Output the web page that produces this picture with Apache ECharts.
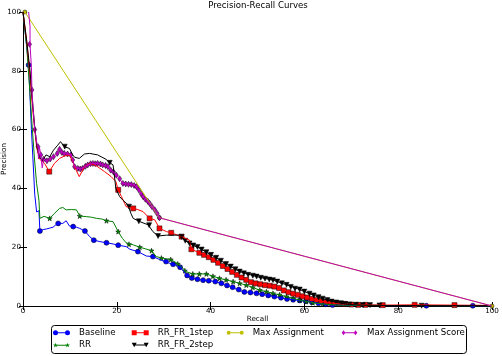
<!DOCTYPE html>
<html>
<head>
<meta charset="utf-8">
<script src="https://cdn.jsdelivr.net/npm/echarts@6/dist/echarts.min.js"></script>
<style>
  html, body { margin: 0; padding: 0; background: #fff; }
  #chart { width: 502px; height: 356px; }
</style>
</head>
<body>
<div id="chart"></div>
<script>
// [recall, precision]; *Line = the path, *Marks = where markers sit
const baselineLine = [[0,100],[0.6,91],[1.2,82],[1.8,60],[2.5,38],[2.9,32],[3.4,32.4],[3.6,25.5],[4.3,26],[5,26.2],[5.7,26.5],[6.4,26.8],[7,27.6],[7.5,28.1],[8.5,28.1],[9.2,29],[9.9,27.2],[10.7,27],[11.4,26.8],[12.1,26.4],[13.2,25.5],[14.2,23.6],[15.1,22.4],[16.4,21.9],[17.8,21.5],[19.2,21.1],[20.3,20.7],[22,20.2],[22.8,19.3],[24.5,18.5],[26.3,17],[27.7,16.8],[29.9,15.3],[31.3,14.5],[32.7,13.9],[34.1,12.2],[34.8,10.5],[36.2,9.4],[38.4,8.8],[41.2,8.3],[44.1,6.6],[46.9,4.9],[49.8,4.3],[52.6,3.5],[55.4,2.6],[58.3,2],[61.1,1.5],[63.9,0.7],[66,0.3],[72,0.2],[80,0.1],[86,0.1],[96,0.1],[100,0]];
const baselineMarks = [[1.2,82],[3.6,25.5],[7.5,28.1],[10.7,27],[13.2,25.5],[15.1,22.4],[17.8,21.5],[20.3,20.7],[24.5,18.5],[27.7,16.8],[30.5,15.1],[32,14.2],[33.5,13.2],[35,10.4],[36,9.5],[37.2,9.1],[38.4,8.8],[39.6,8.6],[41,8.3],[42.3,7.7],[43.5,7],[44.7,6.4],[46,5.6],[47.2,4.8],[48.5,4.6],[49.8,4.3],[51,4],[52.3,3.6],[53.6,3.2],[55,2.8],[56.3,2.4],[57.6,2.1],[59,1.9],[60.3,1.6],[61.6,1.3],[63,0.9],[64.5,0.6],[66,0.3],[86,0.1],[95.9,0.1]];

const rrLine = [[0,100],[0.8,88],[1.5,72],[2,60],[2.5,49],[2.9,41.7],[3.4,36],[3.6,29.8],[4.5,30.5],[5.7,29.8],[6.7,31.5],[7.8,33.2],[8.5,33.5],[9.2,32.7],[10.3,32.8],[11.4,32.7],[12.1,30.6],[13.5,30.4],[14.6,30.2],[15.7,29.8],[16.8,29.6],[17.8,29],[19.2,28.7],[20.3,25.3],[21.2,23],[22,21.5],[23.5,20.8],[24.9,20],[26.2,19.4],[27.4,18.8],[28.4,16.8],[29.9,16.2],[31.3,15.9],[32.4,15],[33.4,13.9],[34.8,11.7],[36.2,10.9],[39.1,10.9],[41.9,9.4],[44.8,8.3],[47.6,7.1],[50.5,5.4],[53.3,4.3],[56.2,3.2],[59,2],[61.8,1.1],[63.9,0.7],[67,0.3],[75,0.2],[85,0.1],[100,0]];
const rrMarks = [[5.7,29.8],[12.1,30.6],[17.8,29],[20.3,25.3],[22.6,21],[24.9,20],[27.4,18.8],[29.5,16.3],[31.5,15.8],[33,14.3],[34.5,12],[36.2,10.9],[37.6,10.9],[39.1,10.9],[40.5,10.1],[41.9,9.4],[43.3,8.9],[44.8,8.3],[46.2,7.7],[47.6,7.1],[49,6.3],[50.5,5.4],[51.9,4.9],[53.3,4.3],[54.7,3.8],[56.2,3.2],[57.6,2.6],[59,2],[60.4,1.5],[61.8,1.1],[63.9,0.7]];

const fr1Line = [[0,100],[0.8,90],[1.5,78],[2,68],[2.5,60],[2.9,54],[3.5,50],[4.6,48.5],[5.6,45.7],[6.7,48.5],[7.8,50.2],[8.8,51],[9.9,51.4],[10.6,49.1],[11.3,46.3],[12,44],[13.1,47.4],[14.2,48.5],[15.2,48],[15.9,47.4],[17.4,45.7],[18.8,44],[19.8,42.3],[20.3,39.5],[21,37.2],[22,33.8],[23.5,33.2],[24.5,32.8],[25.6,32.1],[27,29.8],[28.1,29.3],[29.1,26.4],[30.6,25.3],[31.6,24.9],[33.8,23.6],[35.5,22.4],[35.9,19.3],[37.6,18.1],[39.4,16.8],[41.2,15.1],[43.4,12.8],[46.2,10],[49,7.9],[51.2,7.2],[54,6.5],[56.9,4.6],[59.7,3.3],[62.6,2],[65.4,1.1],[68.2,0.7],[72,0.4],[77,0.3],[83.5,0.4],[92,0.3],[100,0.2]];
const fr1Marks = [[5.6,45.7],[20.3,39.5],[23.5,33.2],[27,29.8],[29.1,26.4],[31.6,24.9],[33.8,23.6],[35.9,19.3],[37.6,18.1],[38.6,17.4],[39.6,16.6],[40.6,15.7],[41.6,14.7],[42.6,13.6],[43.6,12.6],[44.6,11.6],[45.6,10.6],[46.6,9.7],[47.6,8.9],[48.6,8.1],[49.6,7.7],[50.6,7.4],[51.6,7.1],[52.6,6.9],[53.6,6.6],[54.6,6.1],[55.6,5.3],[56.6,4.7],[57.6,4.2],[58.6,3.8],[59.6,3.3],[60.6,2.9],[61.6,2.4],[62.6,2],[63.6,1.7],[64.6,1.3],[65.6,1.1],[66.6,0.9],[67.6,0.8],[68.6,0.7],[70,0.5],[71.5,0.4],[73,0.4],[76.7,0.3],[83.5,0.4],[92,0.3]];

const fr2Line = [[0,100],[0.8,90],[1.5,80],[2,70],[2.5,61],[3,54],[3.5,50.5],[4.2,49.5],[4.9,51.4],[5.7,50.8],[6.5,53],[7.3,54.5],[8,55.9],[8.8,54.2],[9.9,53.6],[10.6,51.4],[11,50.6],[12,50.2],[13.1,51.7],[14.2,51.9],[15.9,51.4],[17.7,49.9],[18.5,48.7],[19.2,48],[19.8,40],[20.6,37.2],[21.3,36],[22.4,34.4],[23,31.5],[23.5,29.8],[24.9,28.7],[26.7,27.6],[27.7,25.3],[28.8,23.8],[30.6,24.1],[33.4,24.1],[34.6,22.2],[36.3,20.6],[37.5,19.8],[39.1,18.3],[41.2,16.4],[43.3,14.3],[46.2,11.7],[49.8,10],[53.3,8.8],[56.2,7.2],[59,5.6],[61.1,4.2],[63.9,2.5],[66.8,1.2],[69.6,0.5],[72.5,0.3],[76,0.2],[85,0.1],[100,0.1]];
const fr2Marks = [[8.9,54.2],[18.5,48.7],[22.6,33.8],[24.7,28.8],[26.9,27.5],[28.8,23.8],[33.8,23.5],[34.6,22.2],[35.5,21.3],[36.3,20.6],[37.2,20.1],[38.1,19.2],[39.1,18.3],[40.1,17.4],[41.2,16.4],[42.2,15.4],[43.3,14.3],[44.3,13.4],[45.3,12.5],[46.2,11.7],[47.1,11.1],[48,10.6],[49,10.3],[49.8,10],[50.7,9.6],[51.6,9.3],[52.5,9],[53.3,8.8],[54.2,8.3],[55.2,7.7],[56.2,7.2],[57.1,6.5],[58,5.9],[59,5.6],[60,4.9],[61.1,4.2],[62,3.6],[63,3],[63.9,2.5],[64.9,2],[65.8,1.5],[66.8,1.2],[67.8,0.9],[68.7,0.7],[69.6,0.5],[71,0.4],[72.5,0.3],[74,0.3],[76,0.2],[85,0.1]];

const maxLine = [[0.4,100],[29.1,30],[100,0]];
const maxMarks = [[0.4,100],[29.1,30],[100,0]];

const scoreLine = [[1.2,100],[1.5,95],[1.5,89],[1.8,81],[1.9,73.5],[2.2,66],[2.5,60],[2.7,58],[3,55],[3.2,54.2],[3.3,50],[3.5,54],[3.8,51.4],[4.1,47],[4.4,49.9],[5.1,49.4],[5.8,50],[6.5,50.8],[7.3,51.9],[7.8,53.3],[8.3,52.2],[8.8,51.9],[9.5,51.7],[10.2,51.4],[10.6,49.7],[11,47.4],[11.7,46.8],[12.7,46.8],[13.8,48],[14.9,48.5],[15.9,48.5],[17,48],[18.1,47.4],[18.7,46.2],[19.3,45.6],[19.9,44.5],[20.6,43.3],[21.3,41.7],[22.5,41.4],[23.7,41],[24.2,40.6],[25.6,37.2],[27,34.9],[28.1,32.7],[28.6,31.5],[29.1,30],[100,0]];
const scoreMarks = [[1.4,89],[1.9,73.5],[2.5,60],[3.2,54.2],[3.8,51.4],[4.4,49.9],[5.1,49.4],[5.8,50],[6.5,50.8],[7.3,51.9],[7.8,53.3],[8.3,52.2],[8.8,51.9],[9.5,51.7],[10.2,51.4],[10.6,49.7],[11,47.4],[11.7,46.8],[12.2,46.6],[12.7,46.8],[13.3,47.5],[13.8,48],[14.4,48.4],[14.9,48.5],[15.4,48.4],[15.9,48.5],[16.5,48.3],[17,48],[17.6,47.8],[18.1,47.4],[18.7,46.2],[19.3,45.6],[19.9,44.5],[20.6,43.3],[21.3,41.7],[21.9,41.5],[22.5,41.4],[23.1,41.3],[23.7,41],[24.2,40.6],[24.7,39.5],[25.2,38.2],[25.6,37.2],[26.1,36.3],[26.6,35.6],[27,34.9],[27.5,33.8],[28.1,32.7],[28.6,31.5],[29.1,30]];

const font = 'DejaVu Sans';

// legend handles: line with a marker at each end
const starPath = 'path://M2.5,0L3.09,1.69L4.88,1.73L3.45,2.81L3.97,4.52L2.5,3.5L1.03,4.52L1.55,2.81L0.12,1.73L1.91,1.69Z';
const icons = {
  circle: 'path://M0,2.5A2.5,2.5,0,1,0,5,2.5A2.5,2.5,0,1,0,0,2.5ZM12,2.5A2.5,2.5,0,1,0,17,2.5A2.5,2.5,0,1,0,12,2.5ZM5,2L12,2L12,3L5,3Z',
  small: 'path://M0,2A2,2,0,1,0,4,2A2,2,0,1,0,0,2ZM13,2A2,2,0,1,0,17,2A2,2,0,1,0,13,2ZM4,1.5L13,1.5L13,2.5L4,2.5Z',
  star: 'path://M2.5,0L3.09,1.69L4.88,1.73L3.45,2.81L3.97,4.52L2.5,3.5L1.03,4.52L1.55,2.81L0.12,1.73L1.91,1.69ZM14.5,0L15.09,1.69L16.88,1.73L15.45,2.81L15.97,4.52L14.5,3.5L13.03,4.52L13.55,2.81L12.12,1.73L13.91,1.69ZM3.5,2L13.5,2L13.5,3L3.5,3Z',
  square: 'path://M0,0L5,0L5,5L0,5ZM12,0L17,0L17,5L12,5ZM5,2L12,2L12,3L5,3Z',
  tri: 'path://M0,0.5L5,0.5L2.5,5ZM12,0.5L17,0.5L14.5,5ZM3.5,2.2L13.5,2.2L13.5,3.2L3.5,3.2Z',
  diamond: 'path://M2.5,0L4.3,2.5L2.5,5L0.7,2.5ZM14.5,0L16.3,2.5L14.5,5L12.7,2.5ZM4,2L13,2L13,3L4,3Z'
};

const series = [];
function addCurve(name, color, line, marks, symbol, size, rotate) {
  series.push({
    name: name, type: 'line', data: line, symbol: 'none',
    lineStyle: { color: color, width: 1 }, itemStyle: { color: color }
  });
  series.push({
    name: name, type: 'scatter', data: marks, symbol: symbol,
    symbolSize: size, symbolRotate: rotate || 0,
    itemStyle: { color: color, borderColor: '#000', borderWidth: 0.5, opacity: 1 }
  });
}
addCurve('Baseline', '#0000ff', baselineLine, baselineMarks, 'circle', 5);
addCurve('RR', '#008000', rrLine, rrMarks, starPath, 5);
addCurve('RR_FR_1step', '#ff0000', fr1Line, fr1Marks, 'rect', 5);
addCurve('RR_FR_2step', '#000000', fr2Line, fr2Marks, 'triangle', 5, 180);
addCurve('Max Assignment', '#bfbf00', maxLine, maxMarks, 'circle', 4);
addCurve('Max Assignment Score', '#bf00bf', scoreLine, scoreMarks, 'diamond', [4, 6]);

function legendCol(left, items, h) {
  return {
    orient: 'vertical', left: left, top: 327.7, padding: 0,
    itemWidth: 17, itemHeight: h || 5, itemGap: 2.3, selectedMode: false,
    itemStyle: { borderWidth: 0 },
    textStyle: { fontFamily: font, fontSize: 8.6, color: '#000', lineHeight: 10, padding: [0, 0, 0, 4] },
    data: items
  };
}

const axisCommon = {
  type: 'value', min: 0, max: 100, interval: 20,
  axisLine: { lineStyle: { color: '#000', width: 1 } },
  axisTick: { inside: true, length: 4, lineStyle: { color: '#000' } },
  splitLine: { show: false }
};

const chart = echarts.init(document.getElementById('chart'));
chart.setOption({
  animation: false,
  backgroundColor: '#fff',
  grid: { left: 23, right: 10, top: 12, bottom: 50, outerBoundsMode: 'none', containLabel: false },
  xAxis: [
    Object.assign({}, axisCommon, {
      position: 'bottom', name: 'Recall', nameLocation: 'middle', nameGap: 10, nameMoveOverlap: false,
      nameTextStyle: { fontFamily: font, fontSize: 7.2, color: '#000' },
      axisLabel: { fontFamily: font, fontSize: 7.2, color: '#000', margin: 2 }
    }),
    Object.assign({}, axisCommon, { position: 'top', axisLabel: { show: false } })
  ],
  yAxis: [
    Object.assign({}, axisCommon, {
      position: 'left', name: 'Precision', nameLocation: 'middle', nameGap: 15, nameMoveOverlap: false,
      nameTextStyle: { fontFamily: font, fontSize: 7.2, color: '#000' },
      axisLabel: { fontFamily: font, fontSize: 7.2, color: '#000', margin: 2 }
    }),
    Object.assign({}, axisCommon, { position: 'right', axisLabel: { show: false } })
  ],
  legend: [
    legendCol(53, [{ name: 'Baseline', icon: icons.circle }, { name: 'RR', icon: icons.star }]),
    legendCol(131.7, [{ name: 'RR_FR_1step', icon: icons.square }, { name: 'RR_FR_2step', icon: icons.tri }]),
    legendCol(226.7, [{ name: 'Max Assignment', icon: icons.small }], 4),
    legendCol(341.7, [{ name: 'Max Assignment Score', icon: icons.diamond }])
  ],
  graphic: [
    {
      type: 'rect', z: -1,
      shape: { x: 51.5, y: 325.5, width: 415, height: 28, r: 3 },
      style: { fill: '#fff', stroke: '#000', lineWidth: 1 }
    },
    {
      type: 'text', x: 258, y: 6,
      style: { text: 'Precision-Recall Curves', fontFamily: font, fontSize: 8.6, fill: '#000', align: 'center', verticalAlign: 'middle' }
    }
  ],
  series: series
});
</script>
</body>
</html>
